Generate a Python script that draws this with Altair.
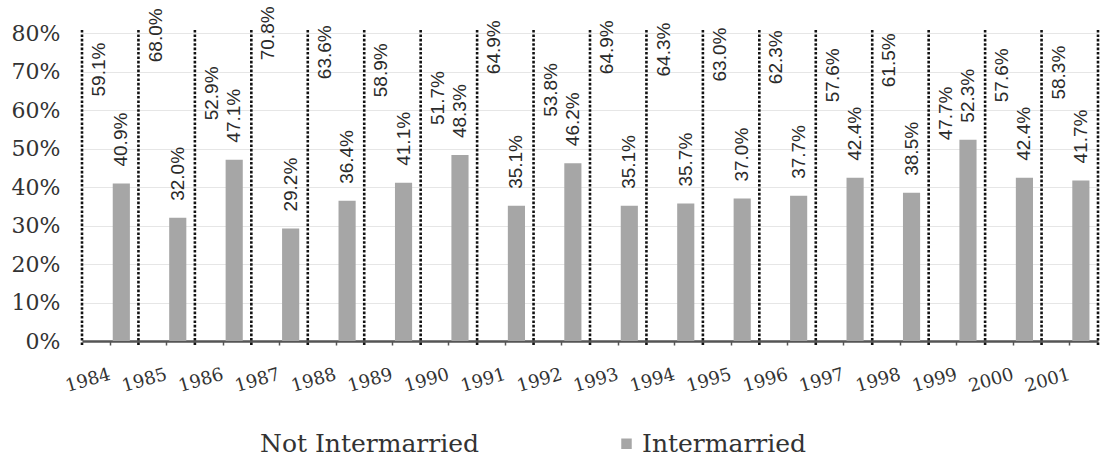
import altair as alt
import pandas as pd

# Share of marriages by year: not intermarried vs intermarried (percent)
years = [str(y) for y in range(1984, 2002)]
not_intermarried = [59.1, 68.0, 52.9, 70.8, 63.6, 58.9, 51.7, 64.9, 53.8,
                    64.9, 64.3, 63.0, 62.3, 57.6, 61.5, 47.7, 57.6, 58.3]
intermarried = [40.9, 32.0, 47.1, 29.2, 36.4, 41.1, 48.3, 35.1, 46.2,
                35.1, 35.7, 37.0, 37.7, 42.4, 38.5, 52.3, 42.4, 41.7]
series_names = ["Not Intermarried", "Intermarried"]
y_ticks = [0.0, 0.1, 0.2, 0.3, 0.4, 0.5, 0.6, 0.7, 0.8]

rows = []
for i, yr in enumerate(years):
    rows.append({"year": yr, "series": series_names[0], "value": not_intermarried[i] / 100})
    rows.append({"year": yr, "series": series_names[1], "value": intermarried[i] / 100})
df = pd.DataFrame(rows)

W, H = 1016, 308
SERIF = "DejaVu Serif"
SANS = "Liberation Sans, Arial, sans-serif"

x_axis = alt.Axis(
    title=None,
    labelAngle=344,
    labelAlign="right",
    labelBaseline="middle",
    labelPadding=29,
    labelFont=SERIF,
    labelFontSize=18,
    labelColor="#333333",
    tickSize=4,
    tickColor="#555555",
    tickWidth=1.5,
    domainColor="#555555",
    domainWidth=2.5,
    grid=False,
    labelOverlap=False,
)
y_axis = alt.Axis(
    title=None,
    format=".0%",
    values=y_ticks,
    labelFont=SERIF,
    labelFontSize=22,
    labelColor="#333333",
    labelPadding=22,
    labelOverlap=False,
    domain=False,
    ticks=False,
    grid=True,
    gridColor="#e6e6e6",
    gridWidth=1,
)
x_scale = alt.Scale(paddingInner=0, paddingOuter=0)
y_scale = alt.Scale(domain=[0, 0.8], nice=False)
xoff_enc = alt.XOffset(
    "series:N",
    sort=series_names,
    scale=alt.Scale(domain=series_names, paddingInner=0.227, paddingOuter=0.386),
)

base = alt.Chart(df)

bars = base.mark_bar().encode(
    x=alt.X("year:N", sort=years, scale=x_scale, axis=x_axis),
    xOffset=xoff_enc,
    y=alt.Y("value:Q", scale=y_scale, axis=y_axis),
    color=alt.Color(
        "series:N",
        sort=series_names,
        scale=alt.Scale(domain=series_names, range=["#ffffff", "#a6a6a6"]),
        legend=alt.Legend(
            title=None,
            orient="none",
            direction="horizontal",
            legendX=150,
            legendY=398,
            symbolType="square",
            symbolSize=110,
            symbolStrokeWidth=0,
            labelFont=SERIF,
            labelFontSize=25,
            labelColor="#333333",
            labelLimit=400,
            labelOffset=3,
            columnPadding=135,
        ),
    ),
    opacity=alt.condition(
        alt.datum.series == series_names[0], alt.value(0), alt.value(1)
    ),
)

# Dotted separators at the start of every year band, plus one closing the last band
separators = alt.Chart(pd.DataFrame({"year": years})).mark_rule(
    color="#111111", strokeWidth=2.6, strokeDash=[2.6, 1.8]
).encode(
    x=alt.X("year:N", sort=years, scale=x_scale, axis=x_axis, bandPosition=0),
    y=alt.value(-3),
    y2=alt.value(H + 4),
)
closing = alt.Chart(pd.DataFrame({"year": [years[-1]]})).mark_rule(
    color="#111111", strokeWidth=2.6, strokeDash=[2.6, 1.8]
).encode(
    x=alt.X("year:N", sort=years, scale=x_scale, axis=x_axis, bandPosition=1),
    y=alt.value(-3),
    y2=alt.value(H + 4),
)

labels = base.transform_calculate(
    label_y="min(datum.value, 0.685)"
).mark_text(
    angle=270,
    align="left",
    baseline="middle",
    dx=17,
    font=SANS,
    fontSize=19,
    color="#2a2a2a",
).encode(
    x=alt.X("year:N", sort=years, scale=x_scale, axis=x_axis),
    xOffset=xoff_enc,
    y=alt.Y("label_y:Q", scale=y_scale, axis=y_axis),
    text=alt.Text("value:Q", format=".1%"),
)

chart = alt.layer(bars, separators, closing, labels).properties(
    width=W,
    height=H,
    autosize=alt.AutoSizeParams(type="none"),
    padding={"left": 82, "top": 33, "right": 3, "bottom": 120},
).configure_view(stroke=None)

chart.save("out.html", embed_options={"renderer": "svg", "actions": False})
